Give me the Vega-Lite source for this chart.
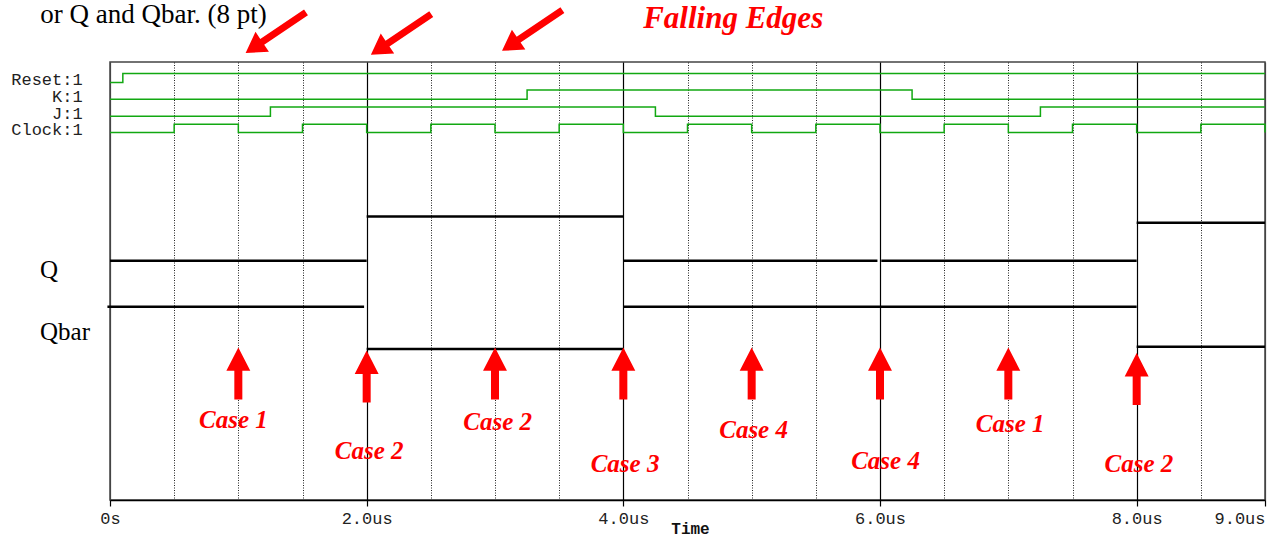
{
  "$schema": "https://vega.github.io/schema/vega-lite/v6.json",
  "width": 1155,
  "height": 438,
  "autosize": {"type": "none"},
  "padding": {"left": 110, "top": 62, "right": 8, "bottom": 37},
  "background": "white",
  "config": {"view": {"stroke": "#444", "strokeWidth": 1.5}},
  "encoding": {
    "x": {"field": "t", "type": "quantitative", "scale": {"domain": [0, 9], "nice": false, "zero": false}, "axis": null},
    "y": {"field": "v", "type": "quantitative", "scale": {"domain": [0, 100], "nice": false, "zero": false}, "axis": null}
  },
  "layer": [
    {
      "data": {"values": [
        {"sig": "Reset", "t": 0, "v": 95.3}, {"sig": "Reset", "t": 0.1, "v": 97.4}, {"sig": "Reset", "t": 9, "v": 97.4},
        {"sig": "K", "t": 0, "v": 91.5}, {"sig": "K", "t": 3.25, "v": 93.6}, {"sig": "K", "t": 6.25, "v": 91.5}, {"sig": "K", "t": 9, "v": 91.5},
        {"sig": "J", "t": 0, "v": 87.6}, {"sig": "J", "t": 1.25, "v": 89.7}, {"sig": "J", "t": 4.25, "v": 87.6}, {"sig": "J", "t": 7.25, "v": 89.7}, {"sig": "J", "t": 9, "v": 89.7},
        {"sig": "Clock", "t": 0, "v": 83.9}, {"sig": "Clock", "t": 0.5, "v": 85.8}, {"sig": "Clock", "t": 1, "v": 83.9}, {"sig": "Clock", "t": 1.5, "v": 85.8},
        {"sig": "Clock", "t": 2, "v": 83.9}, {"sig": "Clock", "t": 2.5, "v": 85.8}, {"sig": "Clock", "t": 3, "v": 83.9}, {"sig": "Clock", "t": 3.5, "v": 85.8},
        {"sig": "Clock", "t": 4, "v": 83.9}, {"sig": "Clock", "t": 4.5, "v": 85.8}, {"sig": "Clock", "t": 5, "v": 83.9}, {"sig": "Clock", "t": 5.5, "v": 85.8},
        {"sig": "Clock", "t": 6, "v": 83.9}, {"sig": "Clock", "t": 6.5, "v": 85.8}, {"sig": "Clock", "t": 7, "v": 83.9}, {"sig": "Clock", "t": 7.5, "v": 85.8},
        {"sig": "Clock", "t": 8, "v": 83.9}, {"sig": "Clock", "t": 8.5, "v": 85.8}, {"sig": "Clock", "t": 9, "v": 83.9}
      ]},
      "mark": {"type": "line", "interpolate": "step-after", "color": "#12A812", "strokeWidth": 1.5},
      "encoding": {
        "x": {"field": "t", "type": "quantitative", "scale": {"domain": [0, 9], "nice": false, "zero": false},
          "axis": {"orient": "bottom", "values": [0.5, 1, 1.5, 2.5, 3, 3.5, 4.5, 5, 5.5, 6.5, 7, 7.5, 8.5],
            "grid": true, "gridDash": [1, 1.5], "gridColor": "#222", "gridWidth": 1,
            "labels": false, "ticks": false, "domain": false, "title": null}},
        "detail": {"field": "sig"}
      }
    },
    {
      "data": {"values": [
        {"sig": "Q", "t": 0, "t2": 2, "v": 54.6}, {"sig": "Q", "t": 2, "t2": 4, "v": 64.7}, {"sig": "Q", "t": 4, "t2": 5.98, "v": 54.6}, {"sig": "Q", "t": 6.01, "t2": 8, "v": 54.6}, {"sig": "Q", "t": 8, "t2": 9, "v": 63.3},
        {"sig": "Qbar", "t": -0.02, "t2": 1.98, "v": 44.1}, {"sig": "Qbar", "t": 2, "t2": 4, "v": 34.5}, {"sig": "Qbar", "t": 4, "t2": 8, "v": 44.1}, {"sig": "Qbar", "t": 8, "t2": 9, "v": 35.0}
      ]},
      "mark": {"type": "rule", "color": "#000000", "strokeWidth": 2.5},
      "encoding": {
        "x": {"field": "t", "type": "quantitative", "scale": {"domain": [0, 9], "nice": false, "zero": false},
          "axis": {"orient": "bottom", "values": [0, 2, 4, 6, 8, 9],
            "grid": true,
            "gridColor": {"condition": {"test": "datum.value == 0 || datum.value == 9", "value": "#444"}, "value": "#000"},
            "gridWidth": 1.2,
            "domain": true, "domainColor": "#000", "domainWidth": 1.5,
            "ticks": true, "tickColor": "#000", "tickSize": 6, "tickWidth": 1.2,
            "labelExpr": "datum.value == 0 ? '0s' : format(datum.value, '.1f') + 'us'",
            "labelFont": "Liberation Mono", "labelFontSize": 17, "labelColor": "#222",
            "labelBaseline": "alphabetic", "labelPadding": 17, "labelOverlap": false, "labelBound": false, "labelFlush": false,
            "labelAlign": {"condition": {"test": "datum.value == 9", "value": "right"}, "value": "center"},
            "title": "Time", "titleFont": "Liberation Mono", "titleFontSize": 16, "titleFontWeight": "bold", "titleColor": "#111",
            "titleBaseline": "alphabetic", "titleAlign": "center", "titleX": 580, "titleY": 33}},
        "x2": {"field": "t2"},
        "detail": {"field": "sig"}
      }
    },
    {
      "data": {"values": [
        {"t": 1, "v": 28.9}, {"t": 2, "v": 28.2}, {"t": 3, "v": 28.9}, {"t": 4, "v": 28.9},
        {"t": 5, "v": 28.9}, {"t": 6, "v": 28.9}, {"t": 7, "v": 28.9}, {"t": 8, "v": 27.6}
      ]},
      "mark": {"type": "point", "shape": "M0,-1L0.46,-0.1L0.154,-0.1L0.154,1L-0.154,1L-0.154,-0.1L-0.46,-0.1Z", "size": 2704, "filled": true, "color": "#FF0000", "opacity": 1, "strokeWidth": 0}
    },
    {
      "data": {"values": [
        {"t": 1.292, "v": 106.7}, {"t": 2.268, "v": 106.3}, {"t": 3.29, "v": 107.2}
      ]},
      "mark": {"type": "point", "shape": "M0,-1L0.33,-0.45L0.096,-0.45L0.096,1L-0.096,1L-0.096,-0.45L-0.33,-0.45Z", "size": 5300, "angle": 236, "filled": true, "color": "#FF0000", "opacity": 1, "strokeWidth": 0, "clip": false}
    },
    {
      "data": {"values": [
        {"t": 0.962, "v": 18.2, "label": "Case 1"}, {"t": 2.02, "v": 11.1, "label": "Case 2"},
        {"t": 3.021, "v": 17.8, "label": "Case 2"}, {"t": 4.013, "v": 8.3, "label": "Case 3"},
        {"t": 5.015, "v": 16.0, "label": "Case 4"}, {"t": 6.043, "v": 8.8, "label": "Case 4"},
        {"t": 7.014, "v": 17.3, "label": "Case 1"}, {"t": 8.018, "v": 8.3, "label": "Case 2"}
      ]},
      "mark": {"type": "text", "font": "Liberation Serif", "fontSize": 25, "fontWeight": "bold", "fontStyle": "italic", "color": "#FF0000", "align": "center", "baseline": "middle"},
      "encoding": {"text": {"field": "label"}}
    },
    {
      "data": {"values": [
        {"t": -0.213, "v": 94.7, "label": "Reset:1"}, {"t": -0.213, "v": 90.9, "label": "K:1"},
        {"t": -0.213, "v": 87.1, "label": "J:1"}, {"t": -0.213, "v": 83.3, "label": "Clock:1"}
      ]},
      "mark": {"type": "text", "font": "Liberation Mono", "fontSize": 17, "color": "#222", "align": "right", "baseline": "alphabetic", "clip": false},
      "encoding": {"text": {"field": "label"}}
    },
    {
      "data": {"values": [
        {"t": -0.545, "v": 50.6, "label": "Q"}, {"t": -0.545, "v": 36.5, "label": "Qbar"}
      ]},
      "mark": {"type": "text", "font": "Liberation Serif", "fontSize": 25, "color": "#000", "align": "left", "baseline": "alphabetic", "clip": false},
      "encoding": {"text": {"field": "label"}}
    },
    {
      "data": {"values": [{"t": 4.856, "v": 107.7, "label": "Falling Edges"}]},
      "mark": {"type": "text", "font": "Liberation Serif", "fontSize": 31, "fontWeight": "bold", "fontStyle": "italic", "color": "#FF0000", "align": "center", "baseline": "alphabetic", "clip": false},
      "encoding": {"text": {"field": "label"}}
    },
    {
      "data": {"values": [{"t": 1.221, "v": 113.7, "label": "or Q and Qbar. (8 pt)"}]},
      "mark": {"type": "text", "font": "Liberation Serif", "fontSize": 27, "color": "#000", "align": "right", "baseline": "top", "clip": false},
      "encoding": {"text": {"field": "label"}}
    }
  ],
  "resolve": {"axis": {"x": "independent"}}
}
